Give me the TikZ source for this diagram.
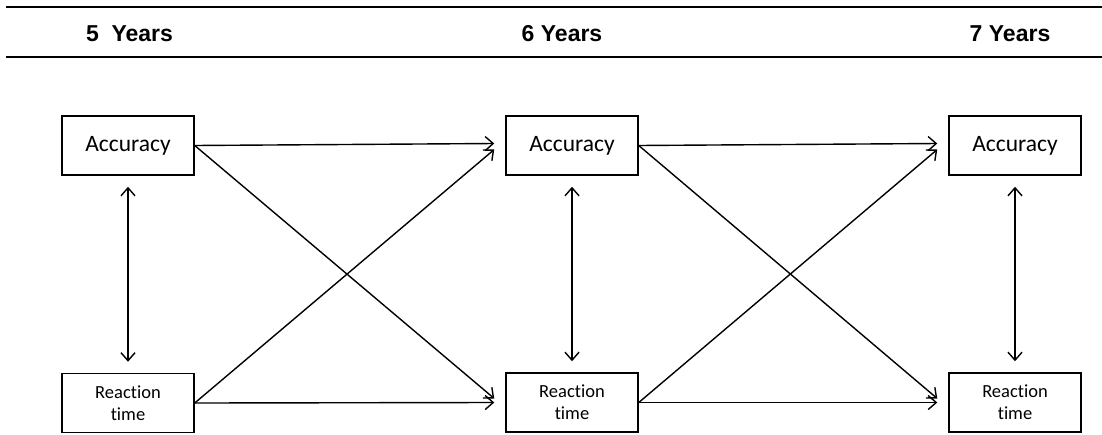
\documentclass[tikz,border=0pt]{standalone}
\usepackage{fontspec}
\setmainfont{Carlito}[Ligatures=NoCommon]
\newfontfamily\hdrfont{Liberation Sans}
\usetikzlibrary{arrows.meta,calc}
\begin{document}
\begin{tikzpicture}[x=1pt,y=-1pt,
  accbox/.style={draw,line width=1.5pt,minimum width=132pt,minimum height=59pt,inner sep=0pt,font=\fontsize{23.5}{28}\selectfont},
  rtbox/.style={draw,line width=1.5pt,minimum width=132pt,minimum height=59pt,inner sep=0pt,align=center,font=\fontsize{18.5}{22}\selectfont},
  hdr/.style={font=\hdrfont\bfseries\fontsize{23}{27}\selectfont,inner sep=0pt},
  rule/.style={line width=2pt},
  arr/.style={line width=1.4pt,-{Straight Barb[length=8pt,width=14pt,line width=1.4pt]}},
  darr/.style={line width=1.4pt,{Straight Barb[length=8pt,width=14pt,line width=1.4pt]}-{Straight Barb[length=8pt,width=14pt,line width=1.4pt]}}]
\useasboundingbox (0,0) rectangle (1102,434);
\coordinate (rtl) at (6,7);
\coordinate (rtr) at (1102,7);
\coordinate (rbl) at (6,57);
\coordinate (rbr) at (1102,57);
\draw[rule] (rtl) -- (rtr);
\draw[rule] (rbl) -- (rbr);
\node[hdr] (h5) at (129.5,34) {5\ \ Years};
\node[hdr] (h6) at (562,34) {6 Years};
\node[hdr] (h7) at (1010,34) {7 Years};
\node[accbox] (acc1) at (128,145.5) {Accuracy};
\node[accbox] (acc2) at (572,145.5) {Accuracy};
\node[accbox] (acc3) at (1015,145.5) {Accuracy};
\node[rtbox] (rt1) at (128,403) {Reaction\\time};
\node[rtbox] (rt2) at (572,402.5) {Reaction\\time};
\node[rtbox] (rt3) at (1015,402.5) {Reaction\\time};
\draw[darr] ($(acc1.south)+(0,11)$) -- ($(rt1.north)+(0,-11)$);
\draw[darr] ($(acc2.south)+(0,11)$) -- ($(rt2.north)+(0,-11)$);
\draw[darr] ($(acc3.south)+(0,11)$) -- ($(rt3.north)+(0,-11)$);
\draw[arr] (acc1.east) -- ($(acc2.west)+(-11,-2)$);
\draw[arr] (acc1.east) -- ($(rt2.west)+(-11,-4)$);
\draw[arr] (rt1.east) -- ($(rt2.west)+(-11,0)$);
\draw[arr] (rt1.east) -- ($(acc2.west)+(-11,4)$);
\draw[arr] (acc2.east) -- ($(acc3.west)+(-11,-2)$);
\draw[arr] (acc2.east) -- ($(rt3.west)+(-11,-4)$);
\draw[arr] (rt2.east) -- ($(rt3.west)+(-11,0)$);
\draw[arr] (rt2.east) -- ($(acc3.west)+(-11,4)$);
\end{tikzpicture}
\end{document}
